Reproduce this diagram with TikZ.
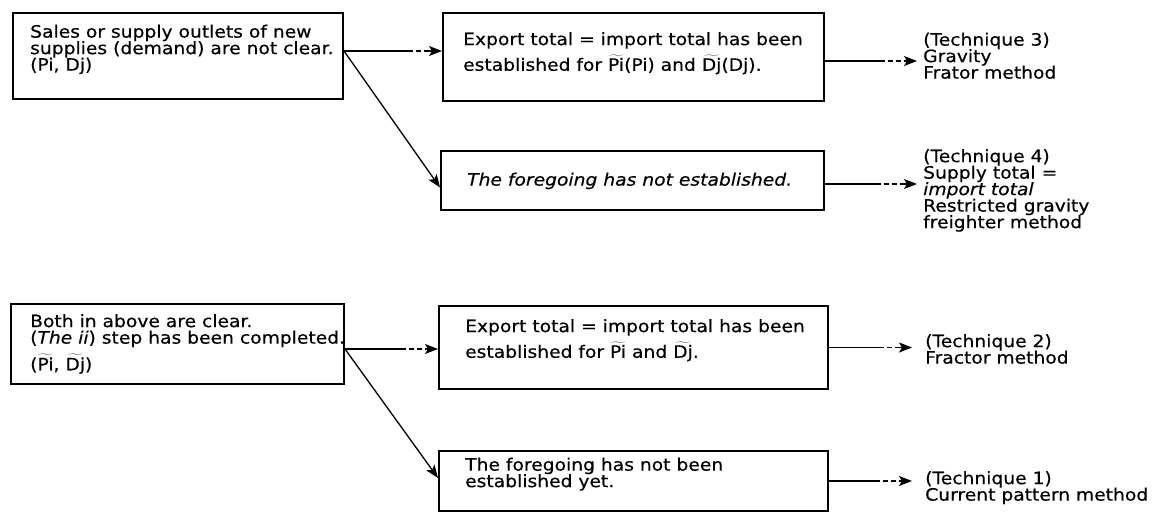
\documentclass[tikz,border=0pt]{standalone}
\usepackage{fontspec}
\setmainfont[FakeStretch=1.1,FakeBold=0.4]{DejaVu Sans}
\usetikzlibrary{arrows.meta,calc}
% solid line that turns into short dashes, ending in a solid arrow head
\newcommand\flowlink[3]{%
  \draw[link] (#1) -- ($(#1)!#3!(#2)$);
  \draw[link, dash pattern=on 5pt off 3pt] ($(#1)!#3!(#2)$) -- ($(#2)!12pt!(#1)$);
  \draw[link, tip] ($(#2)!13pt!(#1)$) -- (#2);}
\newcommand\tl[1]{$\widetilde{\mbox{#1}}$}
\begin{document}
\begin{tikzpicture}[x=1pt,y=-1pt,
  box/.style={draw, line width=2pt, inner sep=0pt, anchor=north west},
  txt/.style={anchor=north west, inner sep=0pt, align=left,
              font=\fontsize{17}{16.5}\selectfont},
  link/.style={line width=1.3pt},
  tip/.style={-{Stealth[length=13pt,width=10pt,inset=3pt]}},
]
\useasboundingbox[fill=white] (0,0) rectangle (1164,513);

% ---- upper group -------------------------------------------------
\node[box, minimum width=330pt, minimum height=86pt] (A) at (12,12) {};
\node[txt] (At) at (30,24.5) {Sales or supply outlets of new\\
  supplies (demand) are not clear.\\(Pi, Dj)};

\node[box, minimum width=381pt, minimum height=88pt] (B) at (442,12) {};
\node[txt] (Bt) at (463,32) {Export total = import total has been\\[5pt]
  established for \tl{Pi}(Pi) and \tl{Dj}(Dj).};

\node[box, minimum width=383pt, minimum height=59pt] (C) at (440,150) {};
\node[txt] (Ct) at (467,172.5) {\itshape The foregoing has not established.};

\node[txt] (T3) at (923,32.5) {(Technique 3)\\Gravity\\Frator method};
\node[txt] (T4) at (923,149) {(Technique 4)\\Supply total =\\
  \textit{import total}\\Restricted gravity\\freighter method};

% ---- lower group -------------------------------------------------
\node[box, minimum width=333pt, minimum height=80pt] (D) at (10,303) {};
\node[txt] (Dt) at (30,314) {Both in above are clear.\\
  (\textit{The ii}) step has been completed.\\[6pt](\tl{Pi}, \tl{Dj})};

\node[box, minimum width=389pt, minimum height=83pt] (E) at (438,305) {};
\node[txt] (Et) at (465,319) {Export total = import total has been\\[5pt]
  established for \tl{Pi} and \tl{Dj}.};

\node[box, minimum width=389pt, minimum height=60pt] (F) at (438,450) {};
\node[txt] (Ft) at (465,457.5) {The foregoing has not been\\established yet.};

\node[txt] (T2) at (925,334) {(Technique 2)\\Fractor method};
\node[txt] (T1) at (925,471) {(Technique 1)\\Current pattern method};

% ---- connectors --------------------------------------------------
\coordinate (a1) at ([yshift=5pt]A.east);
\coordinate (b1) at ([yshift=-4pt]B.east);
\coordinate (c1) at ([yshift=-3.5pt]C.east);
\coordinate (d1) at ([yshift=-5pt]D.east);

\flowlink{a1}{a1 -| B.west}{0.65}
\draw[link, tip] (a1) -- ([yshift=-7pt]C.west);
\flowlink{b1}{[xshift=-6pt]b1 -| T3.west}{0.6}
\flowlink{c1}{[xshift=-6pt]c1 -| T4.west}{0.55}

\flowlink{d1}{d1 -| E.west}{0.6}
\draw[link, tip] (d1) -- ([yshift=3pt]F.west);
\flowlink{E.east}{[xshift=-13pt]E.east -| T2.west}{0.6}
\flowlink{F.east}{[xshift=-13pt]F.east -| T1.west}{0.55}
\end{tikzpicture}
\end{document}
